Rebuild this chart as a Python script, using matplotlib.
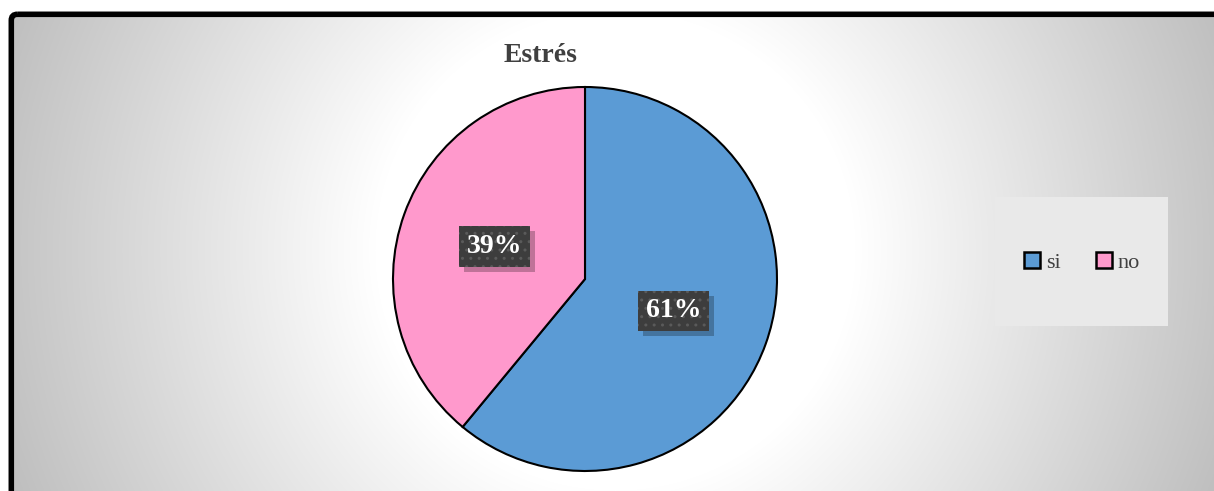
import numpy as np
import matplotlib
matplotlib.use("Agg")
import matplotlib.pyplot as plt
from matplotlib.patches import FancyBboxPatch, Rectangle
from matplotlib.lines import Line2D

# ---- data ----
categories = ["si", "no"]
values = [61, 39]
colors = ["#5B9BD5", "#FF99CC"]
title = "Estrés"

W, H = 1214, 491
fig = plt.figure(figsize=(W / 100, H / 100), dpi=100)
fig.patch.set_facecolor("white")

# ---- background with radial gradient and border ----
bg = fig.add_axes([0, 0, 1, 1])
bg.set_xlim(0, W)
bg.set_ylim(H, 0)
bg.axis("off")
yy, xx = np.mgrid[0:H, 0:W]
cx, cy = 615, 250
r = np.sqrt((xx - cx) ** 2 + (yy - cy) ** 2)
v = np.clip(1.0 - 0.00062 * np.clip(r - 240, 0, None), 0.74, 1.0)
img = np.dstack([v, v, v])
im = bg.imshow(img, extent=(0, W, H, 0), interpolation="bilinear", zorder=0)
frame = FancyBboxPatch((11.3, 14.3), W + 40, H + 40,
                       boxstyle="round,pad=0,rounding_size=6",
                       facecolor="none", edgecolor="black", linewidth=4.0,
                       transform=bg.transData, zorder=5)
bg.add_patch(frame)
clip = FancyBboxPatch((11.3, 14.3), W + 40, H + 40,
                      boxstyle="round,pad=0,rounding_size=6",
                      facecolor="none", edgecolor="none", transform=bg.transData)
bg.add_patch(clip)
im.set_clip_path(clip)

# ---- title ----
bg.text(540, 55, title, ha="center", va="center", fontsize=20, fontweight="bold",
        color="#404040", family="Liberation Serif", zorder=6)

# ---- legend box ----
bg.add_patch(Rectangle((995, 197), 173, 129, facecolor="#e9e9e9", edgecolor="none", zorder=2))

# ---- pie ----
cxp, cyp, R = 585, 279, 192
ax = fig.add_axes([(cxp - R) / W, (H - cyp - R) / H, 2 * R / W, 2 * R / H])
wedges, _ = ax.pie(values, colors=colors, startangle=90, counterclock=False, radius=1.0,
                   wedgeprops=dict(edgecolor="black", linewidth=1.5))
ax.set_xlim(-1, 1)
ax.set_ylim(-1, 1)
ax.axis("off")

dists = [0.49, 0.50]
labels = []
for w, val, d in zip(wedges, values, dists):
    th = np.deg2rad((w.theta1 + w.theta2) / 2)
    x, y = d * np.cos(th), d * np.sin(th)
    t = ax.text(x, y, f"{val}%", ha="center", va="center", fontsize=20, fontweight="bold",
                family="Liberation Serif", color="white",
                bbox=dict(boxstyle="square,pad=0.28", facecolor="#3d3d3d",
                          edgecolor="#5a5a5a", linewidth=0, hatch=".."), zorder=5)
    labels.append(t)

# shadows behind the label boxes
fig.canvas.draw()
for t in labels:
    bb = t.get_bbox_patch().get_window_extent()
    fig.patches.append(Rectangle((bb.x0 + 5, bb.y0 - 5), bb.width, bb.height,
                                 transform=None, facecolor="black", alpha=0.25,
                                 edgecolor="none", zorder=1))
    fig.patches[-1].set_figure(fig)
# make shadow draw between pie and labels: put in pie axes instead
for p in list(fig.patches):
    fig.patches.remove(p)
    p2 = Rectangle(p.get_xy(), p.get_width(), p.get_height(), transform=None,
                   facecolor="black", alpha=0.25, edgecolor="none", zorder=4)
    ax.add_artist(p2)

# ---- legend ----
handles = [Line2D([], [], marker="s", linestyle="none", markersize=11,
                  markerfacecolor=c, markeredgecolor="black", markeredgewidth=1.8)
           for c in colors]
leg = fig.legend(handles, categories, loc="center", bbox_to_anchor=(1082 / W, 1 - 263 / H),
                 ncol=2, frameon=False, prop=dict(family="Liberation Serif", size=16),
                 handlelength=0.7, handletextpad=0.25, columnspacing=1.6, labelcolor="#404040")
plt.savefig("out.png", dpi=100)
